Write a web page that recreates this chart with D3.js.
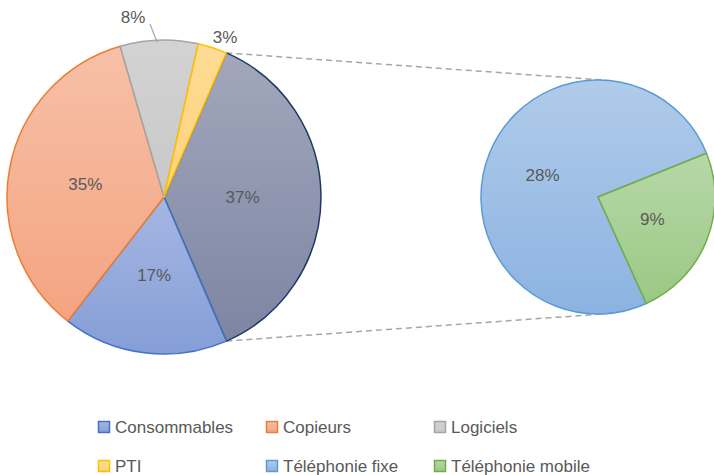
<!DOCTYPE html>
<html><head><meta charset="utf-8">
<script src="https://cdn.jsdelivr.net/npm/d3@7"></script>
<style>body{margin:0;background:#fff}svg{display:block}</style>
</head><body>
<script>
// ---- data ----
const categories = ["Consommables","Copieurs","Logiciels","PTI","Téléphonie fixe","Téléphonie mobile"];
const values = [17, 35, 8, 3, 28, 9];
const mainCats = ["Consommables","Copieurs","Logiciels","PTI"];
const secondCats = ["Téléphonie fixe","Téléphonie mobile"];
const otherLabel = "Autre";
const legendRow1 = ["Consommables","Copieurs","Logiciels"];
const legendRow2 = ["PTI","Téléphonie fixe","Téléphonie mobile"];

// ---- styles ----
const style = {
  "Consommables": {top:"#a6b6e2", bot:"#859ed7", stroke:"#4472c4"},
  "Copieurs": {top:"#f7c0a8", bot:"#f4a481", stroke:"#ed7d31"},
  "Logiciels": {top:"#d3d3d3", bot:"#c8c8c8", stroke:"#a5a5a5"},
  "PTI": {top:"#fedc96", bot:"#fdd27a", stroke:"#ffc000"},
  "Téléphonie fixe": {top:"#b0cbea", bot:"#8cb3e1", stroke:"#5b9bd5"},
  "Téléphonie mobile": {top:"#b8d7a8", bot:"#9ac984", stroke:"#70ad47"},
  "Autre": {top:"#a2a7bb", bot:"#7d85a3", stroke:"#203864"}
};
const W = 714, H = 475;
const font = "'Liberation Sans', Arial, sans-serif";
const textColor = "#595959";

const val = c => values[categories.indexOf(c)];
const total = d3.sum(values);
const otherVal = d3.sum(secondCats, val);

const svg = d3.select("body").append("svg").attr("width", W).attr("height", H);
const defs = svg.append("defs");
Object.entries(style).forEach(([k, s], i) => {
  const g = defs.append("linearGradient").attr("id", "g" + i).attr("x1", 0).attr("y1", 0).attr("x2", 0).attr("y2", 1);
  g.append("stop").attr("offset", 0).attr("stop-color", s.top);
  g.append("stop").attr("offset", 1).attr("stop-color", s.bot);
  s.grad = "url(#g" + i + ")";
});

// main pie
const c1 = {x: 164, y: 197, r: 157};
const mainData = [{cat: otherLabel, v: otherVal}].concat(mainCats.map(c => ({cat: c, v: val(c)})));
const start1 = Math.PI / 2 - Math.PI * otherVal / total;
const pie1 = d3.pie().value(d => d.v).sort(null).startAngle(start1).endAngle(start1 + 2 * Math.PI);
const arcs1 = pie1(mainData);
const arc1 = d3.arc().innerRadius(0).outerRadius(c1.r);

// second pie
const c2 = {x: 598, y: 197, r: 117};
const secData = secondCats.map(c => ({cat: c, v: val(c)}));
const start2 = 155.6 * Math.PI / 180;
const pie2 = d3.pie().value(d => d.v).sort(null).startAngle(start2).endAngle(start2 + 2 * Math.PI);
const arcs2 = pie2(secData);
const arc2 = d3.arc().innerRadius(0).outerRadius(c2.r);

// connectors (tangent lines)
const other = arcs1[0];
const pt = a => [c1.x + c1.r * Math.sin(a), c1.y - c1.r * Math.cos(a)];
function tangent(P, sign) {
  const dx = P[0] - c2.x, dy = P[1] - c2.y, d = Math.hypot(dx, dy);
  const base = Math.atan2(dy, dx), off = Math.acos(c2.r / d);
  const a = base + sign * off;
  return [c2.x + c2.r * Math.cos(a), c2.y + c2.r * Math.sin(a)];
}
const pTop = pt(other.startAngle), pBot = pt(other.endAngle);
const tTop = tangent(pTop, 1), tBot = tangent(pBot, -1);
[[pTop, tTop], [pBot, tBot]].forEach(([a, b]) => {
  svg.append("line").attr("x1", a[0]).attr("y1", a[1]).attr("x2", b[0]).attr("y2", b[1])
    .attr("stroke", "#a6a6a6").attr("stroke-width", 1.5).attr("stroke-dasharray", "6,4");
});

const g1 = svg.append("g").attr("transform", `translate(${c1.x},${c1.y})`);
g1.selectAll("path").data(arcs1).join("path").attr("d", arc1)
  .attr("fill", d => style[d.data.cat].grad).attr("stroke", d => style[d.data.cat].stroke)
  .attr("stroke-width", 1.5).attr("stroke-linejoin", "round");

const g2 = svg.append("g").attr("transform", `translate(${c2.x},${c2.y})`);
g2.selectAll("path").data(arcs2).join("path").attr("d", arc2)
  .attr("fill", d => style[d.data.cat].grad).attr("stroke", d => style[d.data.cat].stroke)
  .attr("stroke-width", 1.5).attr("stroke-linejoin", "round");

// labels
const pct = v => Math.round(v / total * 100) + "%";
const labelR = {"Autre": 0.5, "Consommables": 0.5, "Copieurs": 0.51};
arcs1.forEach(d => {
  const c = d.data.cat, mid = (d.startAngle + d.endAngle) / 2;
  let x, y, dyAdj = 0;
  if (c === "Logiciels") { x = -31; y = -180; 
    g1.append("line").attr("x1", -14).attr("y1", -173).attr("x2", -7).attr("y2", -155)
      .attr("stroke", "#a6a6a6").attr("stroke-width", 1.2);
  } else if (c === "PTI") { x = 61; y = -160; }
  else { const r = c1.r * labelR[c]; x = r * Math.sin(mid); y = -r * Math.cos(mid); if (c === "Copieurs") dyAdj = 2; }
  g1.append("text").attr("x", x).attr("y", y + dyAdj).attr("dy", "0.35em").attr("text-anchor", "middle")
    .attr("font-family", font).attr("font-size", 17).attr("fill", textColor).text(pct(d.data.v));
});
arcs2.forEach(d => {
  const mid = (d.startAngle + d.endAngle) / 2;
  const r = c2.r * (d.data.cat === "Téléphonie fixe" ? 0.51 : 0.5);
  g2.append("text").attr("x", r * Math.sin(mid)).attr("y", -r * Math.cos(mid)).attr("dy", "0.35em")
    .attr("text-anchor", "middle").attr("font-family", font).attr("font-size", 17).attr("fill", textColor)
    .text(pct(d.data.v));
});

// legend
const colX = [98, 266, 434], rowY = [427, 466];
[legendRow1, legendRow2].forEach((row, ri) => {
  row.forEach((c, ci) => {
    const s = style[c];
    svg.append("rect").attr("x", colX[ci] + 0.5).attr("y", rowY[ri] - 5.5).attr("width", 11).attr("height", 11)
      .attr("fill", s.grad).attr("stroke", s.stroke).attr("stroke-width", 1.5);
    svg.append("text").attr("x", colX[ci] + 17).attr("y", rowY[ri]).attr("dy", "0.35em")
      .attr("font-family", font).attr("font-size", 17).attr("fill", textColor).text(c);
  });
});
</script>
</body></html>
